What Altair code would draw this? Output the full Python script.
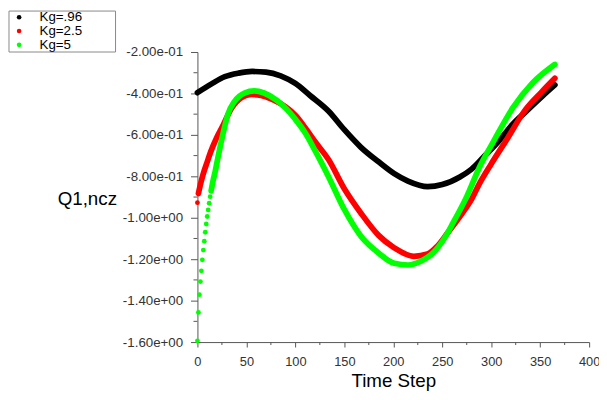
import altair as alt
import pandas as pd

# ---- data ----
black_t = [0, 14, 28, 42, 56, 70, 85, 100, 115, 134, 150, 167, 185, 201, 215, 235, 250, 268, 280, 292, 308, 322, 336, 352, 365]
black_q = [-0.396, -0.355, -0.319, -0.302, -0.294, -0.297, -0.315, -0.352, -0.41, -0.486, -0.575, -0.66, -0.73, -0.787,
           -0.823, -0.850, -0.840, -0.803, -0.765, -0.708, -0.629, -0.548, -0.485, -0.414, -0.359]

red_t = [0, 1, 3, 6, 10, 14, 20, 25, 35, 45, 55, 65, 77, 90, 100, 110, 120, 134, 150, 167, 185, 201, 221, 235, 245,
         256, 268, 280, 288, 300, 315, 335, 352, 365]
red_q = [-0.927, -0.883, -0.84, -0.787, -0.73, -0.676, -0.61, -0.565, -0.470, -0.420, -0.405, -0.410, -0.430, -0.465,
         -0.505, -0.565, -0.632, -0.72, -0.86, -0.978, -1.085, -1.145, -1.186, -1.175, -1.137, -1.07, -0.994, -0.91,
         -0.835, -0.74, -0.629, -0.478, -0.390, -0.327]

green_t = [0, 1, 2, 3, 4, 5, 6, 7, 8, 9, 10, 11, 12, 13, 14, 16, 18, 21, 26, 31, 38, 48, 58, 68, 80, 90, 100, 110,
           120, 134, 150, 167, 185, 201, 215, 228, 241, 252, 261, 275, 288, 302, 322, 342, 365]
green_q = [-1.594, -1.457, -1.371, -1.308, -1.256, -1.203, -1.156, -1.113, -1.070, -1.030, -0.994, -0.962, -0.930,
           -0.898, -0.870, -0.82, -0.78, -0.708, -0.597, -0.502, -0.438, -0.398, -0.388, -0.398, -0.43, -0.47, -0.525,
           -0.59, -0.675, -0.803, -0.96, -1.089, -1.17, -1.220, -1.228, -1.21, -1.168, -1.10, -1.025, -0.898, -0.756,
           -0.635, -0.470, -0.351, -0.260]

series_names = ["Kg=.96", "Kg=2.5", "Kg=5"]
series_colors = ["#000000", "#ff0000", "#00ff00"]
line_from = [0, 1, 14]  # first step from which the dots run together

x_ticks = [0, 50, 100, 150, 200, 250, 300, 350, 400]
x_minor = [25, 75, 125, 175, 225, 275, 325, 375]
y_ticks = [-0.2, -0.4, -0.6, -0.8, -1.0, -1.2, -1.4, -1.6]
y_tick_labels = ["-2.00e-01", "-4.00e-01", "-6.00e-01", "-8.00e-01", "-1.00e+00", "-1.20e+00", "-1.40e+00", "-1.60e+00"]
y_minor = [-0.3, -0.5, -0.7, -0.9, -1.1, -1.3, -1.5]

# ---- build table ----
rows = []
for name, ts, qs, start in zip(series_names, [black_t, red_t, green_t], [black_q, red_q, green_q], line_from):
    for t, q in zip(ts, qs):
        rows.append({"series": name, "t": t, "q": q, "on_line": bool(t >= start)})
df = pd.DataFrame(rows)

label_expr = "''"
for v, lab in reversed(list(zip(y_ticks, y_tick_labels))):
    label_expr = f"datum.value == {v} ? '{lab}' : ({label_expr})"

FONT = "Liberation Sans"
AX = "#555555"

xscale = alt.Scale(domain=[0, 400], nice=False, zero=False)
yscale = alt.Scale(domain=[-1.6, -0.2], nice=False, zero=False)

xaxis = alt.Axis(values=x_ticks, title="Time Step", grid=False, domain=True, domainWidth=1, ticks=True,
                 tickSize=5, labelPadding=9,
                 labelFontSize=13, labelFont=FONT, labelColor="#333333", titleFont=FONT,
                 titleFontSize=19, titleFontWeight="normal", titleColor="#000000", titlePadding=3,
                 domainColor=AX, tickColor=AX, labelFlush=False, labelOverlap=False)
yaxis = alt.Axis(values=y_ticks, labelExpr=label_expr, title="Q1,ncz", titleAngle=0, titleX=-82, titleY=149,
                 titleAlign="right", titleBaseline="middle", grid=False, domain=True, domainWidth=1, ticks=True,
                 tickSize=7, labelPadding=8,
                 labelFontSize=13.5, labelFont=FONT, labelColor="#333333", titleFont=FONT, titleFontSize=19,
                 titleFontWeight="normal", titleColor="#000000", domainColor=AX, tickColor=AX,
                 labelOverlap=False, labelFlush=False)

X = alt.X("t:Q", scale=xscale, axis=xaxis)
Y = alt.Y("q:Q", scale=yscale, axis=yaxis)
cscale = alt.Scale(domain=series_names, range=series_colors)

legend = alt.Legend(title=None, orient="none", legendX=-191, legendY=-42, symbolType="circle", symbolSize=22,
                    labelFontSize=13.5, labelFont=FONT, labelColor="#000000",
                    padding=0, rowPadding=-1, symbolOffset=3.5, labelOffset=14, symbolStrokeWidth=0)
color = alt.Color("series:N", scale=cscale, legend=legend)

# frame around the legend
frame = alt.Chart(pd.DataFrame({"k": [0]})).mark_rect(
    fill="#ffffff", stroke="#888888", strokeWidth=1
).encode(x=alt.value(-191), x2=alt.value(-83), y=alt.value(-41.5), y2=alt.value(0))

base = alt.Chart(df)
points = base.transform_filter("!datum.on_line").mark_circle(size=24, opacity=1).encode(x=X, y=Y, color=color)

lines = base.transform_filter("datum.on_line").mark_line(
    strokeWidth=5.8, interpolate="monotone", strokeCap="round", strokeJoin="round"
).encode(x=X, y=Y, color=color)

xminor = alt.Chart(pd.DataFrame({"t": x_minor})).mark_rule(color=AX, strokeWidth=1).encode(
    x=X, y=alt.value(294), y2=alt.value(297)
)
yminor = alt.Chart(pd.DataFrame({"q": y_minor})).mark_rule(color=AX, strokeWidth=1).encode(
    y=Y, x=alt.value(-4), x2=alt.value(0)
)

chart = alt.layer(frame, points, lines, xminor, yminor).properties(
    width=397, height=294,
    autosize=alt.AutoSizeParams(type="none"),
    padding={"left": 192, "top": 42, "right": 10, "bottom": 48},
).configure_view(stroke=None)

chart.save("out.html", embed_options={"renderer": "svg", "actions": False})
